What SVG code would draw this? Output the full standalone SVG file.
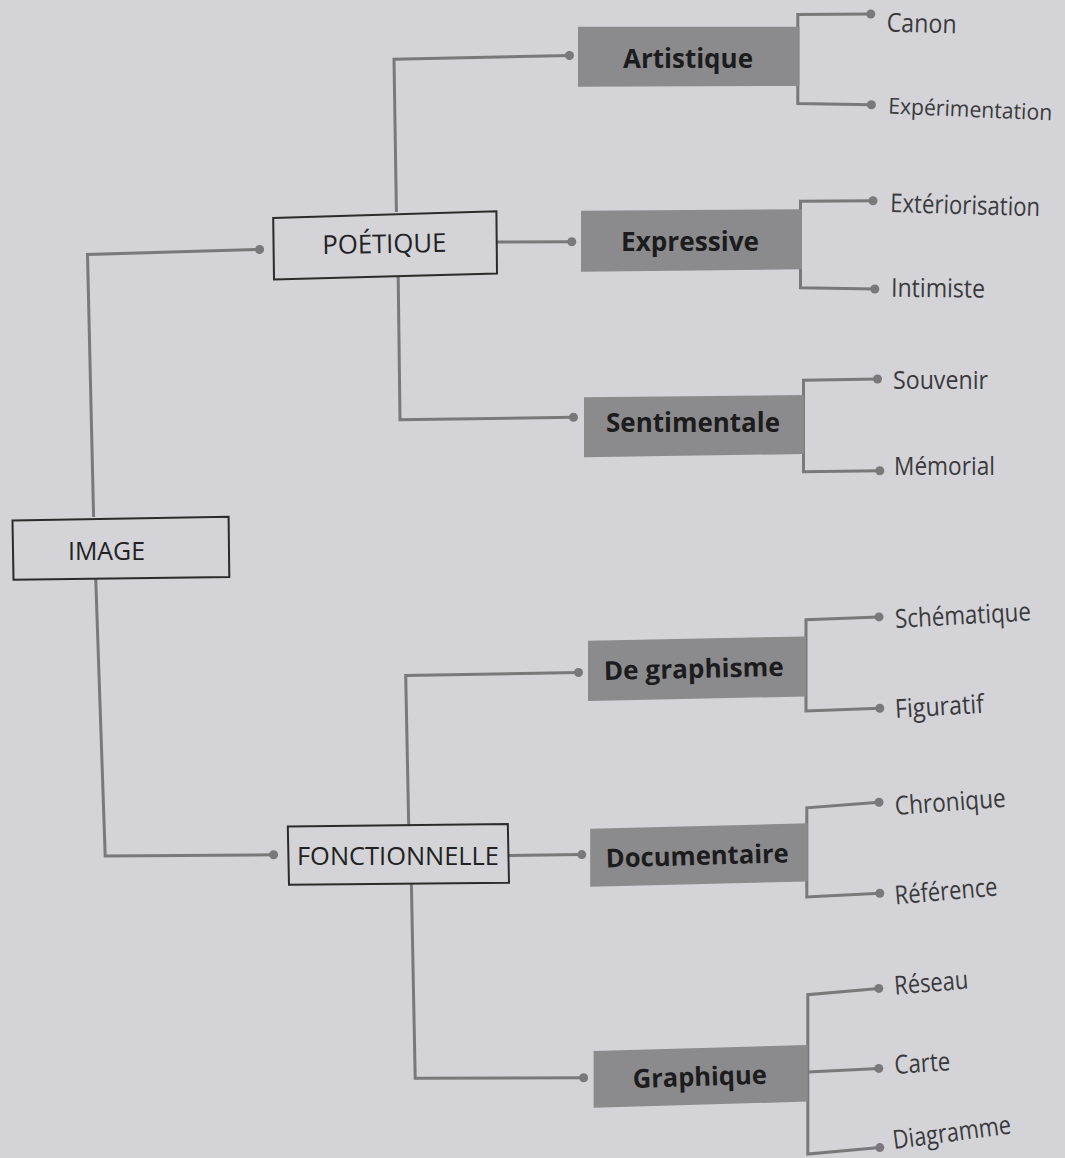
<svg xmlns="http://www.w3.org/2000/svg" width="1065" height="1158" viewBox="0 0 1065 1158">
<style>
.bg{fill:#d3d3d8}
.main{fill:none;stroke:#2b2b2b;stroke-width:2}
.cat{fill:#8b8b8e;stroke:none}
.ln{fill:none;stroke:#79797b;stroke-width:3;stroke-linejoin:miter}
.dot{fill:#79797b}
.mt{font-family:"Open Sans","Liberation Sans",sans-serif;font-size:26px;fill:#222}
.ct{font-family:"Open Sans","Liberation Sans",sans-serif;font-size:26px;font-weight:700;fill:#1c1c1c}
.lt{font-family:"Open Sans","Liberation Sans",sans-serif;font-size:26px;fill:#3a3a3c}
</style>
<rect class="bg" x="0" y="0" width="1065" height="1158"/>

<g id="connectors">
  <polyline class="ln" points="93.6,517 87.5,254.5 259.6,249.5"/>
  <polyline class="ln" points="95.7,578 105.2,855.9 273.6,854.8"/>
  <polyline class="ln" points="396.4,212 394,59.3 569.5,55.5"/>
  <polyline class="ln" points="497,242 571.8,241.7"/>
  <polyline class="ln" points="398.2,277 400,419.8 573.5,417.3"/>
  <polyline class="ln" points="408.7,825 405.7,675.4 578.5,672.5"/>
  <polyline class="ln" points="509,855.4 581.8,854.6"/>
  <polyline class="ln" points="411.4,884 415.2,1078.3 583.6,1077.8"/>
  <polyline class="ln" points="870.8,14 797.8,14.5 797.8,103.5 871.4,104.8"/>
  <polyline class="ln" points="873,200.7 800.5,201.2 800.5,287.8 874.8,289"/>
  <polyline class="ln" points="877.5,379 803.5,380.3 803.5,471.7 879.8,470.7"/>
  <polyline class="ln" points="879,616.9 806,619.8 806,710.9 879.8,708.3"/>
  <polyline class="ln" points="879,802.3 806.8,807.8 806.8,897 879.8,893.3"/>
  <polyline class="ln" points="878.8,988.4 807.8,994.7 807.8,1154 879.8,1147.6"/>
  <polyline class="ln" points="807.8,1072 878.8,1068.4"/>
  <circle class="dot" cx="259.6" cy="249.5" r="4.5"/>
  <circle class="dot" cx="273.6" cy="854.8" r="4.5"/>
  <circle class="dot" cx="569.5" cy="55.5" r="4.5"/>
  <circle class="dot" cx="571.8" cy="241.7" r="4.5"/>
  <circle class="dot" cx="573.5" cy="417.3" r="4.5"/>
  <circle class="dot" cx="578.5" cy="672.5" r="4.5"/>
  <circle class="dot" cx="581.8" cy="854.6" r="4.5"/>
  <circle class="dot" cx="583.6" cy="1077.8" r="4.5"/>
  <circle class="dot" cx="870.8" cy="14" r="4.5"/>
  <circle class="dot" cx="871.4" cy="104.8" r="4.5"/>
  <circle class="dot" cx="873" cy="200.7" r="4.5"/>
  <circle class="dot" cx="874.8" cy="289" r="4.5"/>
  <circle class="dot" cx="877.5" cy="379" r="4.5"/>
  <circle class="dot" cx="879.8" cy="470.7" r="4.5"/>
  <circle class="dot" cx="879" cy="616.9" r="4.5"/>
  <circle class="dot" cx="879.8" cy="708.3" r="4.5"/>
  <circle class="dot" cx="879" cy="802.3" r="4.5"/>
  <circle class="dot" cx="879.8" cy="893.3" r="4.5"/>
  <circle class="dot" cx="878.8" cy="988.4" r="4.5"/>
  <circle class="dot" cx="878.8" cy="1068.4" r="4.5"/>
  <circle class="dot" cx="879.8" cy="1147.6" r="4.5"/>
</g>

<g id="image">
  <polygon class="main" points="12.5,520.5 228.6,516.7 229.3,577 13.5,579.8"/>
  <text class="mt" x="68" y="560" textLength="77" lengthAdjust="spacingAndGlyphs">IMAGE</text>
</g>
<g id="poetique">
  <polygon class="main" points="273.2,218 496.4,211.3 497,273.6 274,279.4"/>
  <text class="mt" x="322.5" y="254" textLength="124" lengthAdjust="spacingAndGlyphs" transform="rotate(-1 322.5 254)">POÉTIQUE</text>
</g>
<g id="fonctionnelle">
  <polygon class="main" points="287.8,826.5 507.8,824 509,882.7 289,884.8"/>
  <text class="mt" x="297" y="865" textLength="202" lengthAdjust="spacingAndGlyphs">FONCTIONNELLE</text>
</g>

<g id="artistique">
  <polygon class="cat" points="578,26.7 799.5,26.7 799.5,86 578,86.7"/>
  <text class="ct" x="623" y="68" textLength="130" lengthAdjust="spacingAndGlyphs">Artistique</text>
</g>
<g id="expressive">
  <polygon class="cat" points="581,210.7 802,209.3 802,269.3 581,271.7"/>
  <text class="ct" x="621" y="251" textLength="138" lengthAdjust="spacingAndGlyphs">Expressive</text>
</g>
<g id="sentimentale">
  <polygon class="cat" points="584,397.3 804,395 804,454 584,457.3"/>
  <text class="ct" x="606" y="432" textLength="174" lengthAdjust="spacingAndGlyphs">Sentimentale</text>
</g>
<g id="degraphisme">
  <polygon class="cat" points="588,640.8 806,636.4 806,696.5 588,701"/>
  <text class="ct" x="604" y="680" textLength="180" lengthAdjust="spacingAndGlyphs" transform="rotate(-1.3 604 680)">De graphisme</text>
</g>
<g id="documentaire">
  <polygon class="cat" points="590.2,828.8 807.8,823.3 807.8,881.5 590.2,886.7"/>
  <text class="ct" x="606" y="867.5" textLength="183" lengthAdjust="spacingAndGlyphs" transform="rotate(-1.6 606 867.5)">Documentaire</text>
</g>
<g id="graphique">
  <polygon class="cat" points="593.6,1051 807.8,1045 807.8,1101.6 593.6,1107.8"/>
  <text class="ct" x="633" y="1088" textLength="134" lengthAdjust="spacingAndGlyphs" transform="rotate(-1.8 633 1088)">Graphique</text>
</g>

<g id="leaves">
  <text id="canon" class="lt" x="886.5" y="31.5" textLength="70" lengthAdjust="spacingAndGlyphs" transform="rotate(1.5 886.5 31.5)">Canon</text>
  <text id="experimentation" class="lt" x="888" y="113.5" style="font-size:22px" textLength="164" lengthAdjust="spacingAndGlyphs" transform="rotate(2.4 888 113.5)">Expérimentation</text>
  <text id="exteriorisation" class="lt" x="890" y="212" textLength="150" lengthAdjust="spacingAndGlyphs" transform="rotate(1.6 890 212)">Extériorisation</text>
  <text id="intimiste" class="lt" x="891" y="296.7" textLength="94" lengthAdjust="spacingAndGlyphs" transform="rotate(0.6 891 296.7)">Intimiste</text>
  <text id="souvenir" class="lt" x="893" y="389" textLength="95" lengthAdjust="spacingAndGlyphs">Souvenir</text>
  <text id="memorial" class="lt" x="894" y="475" textLength="101" lengthAdjust="spacingAndGlyphs">Mémorial</text>
  <text id="schematique" class="lt" x="895.5" y="628" textLength="136" lengthAdjust="spacingAndGlyphs" transform="rotate(-3.2 895.5 628)">Schématique</text>
  <text id="figuratif" class="lt" x="895.5" y="718" textLength="89" lengthAdjust="spacingAndGlyphs" transform="rotate(-3.4 895.5 718)">Figuratif</text>
  <text id="chronique" class="lt" x="895.5" y="815" textLength="111" lengthAdjust="spacingAndGlyphs" transform="rotate(-4.3 895.5 815)">Chronique</text>
  <text id="reference" class="lt" x="895.5" y="904.4" textLength="103" lengthAdjust="spacingAndGlyphs" transform="rotate(-5 895.5 904.4)">Référence</text>
  <text id="reseau" class="lt" x="895" y="994.7" textLength="74" lengthAdjust="spacingAndGlyphs" transform="rotate(-4.8 895 994.7)">Réseau</text>
  <text id="carte" class="lt" x="895" y="1074" textLength="56" lengthAdjust="spacingAndGlyphs" transform="rotate(-4 895 1074)">Carte</text>
  <text id="diagramme" class="lt" x="894" y="1149" textLength="119" lengthAdjust="spacingAndGlyphs" transform="rotate(-7.5 894 1149)">Diagramme</text>
</g>
</svg>
